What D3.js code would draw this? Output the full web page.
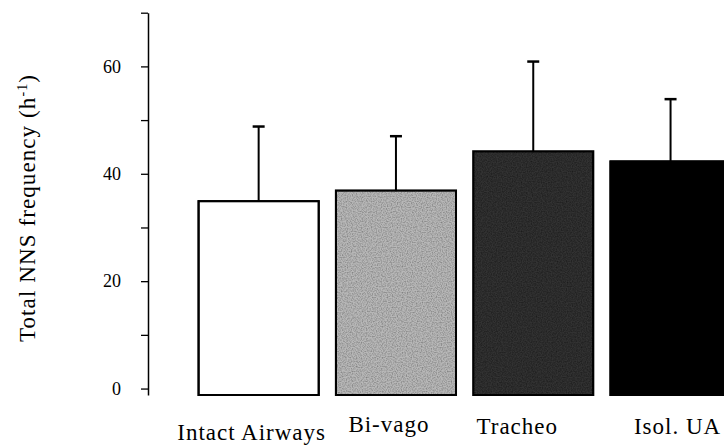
<!DOCTYPE html>
<html>
<head>
<meta charset="utf-8">
<script src="https://cdn.jsdelivr.net/npm/d3@7"></script>
<style>
  body { margin: 0; background: #fff; }
  svg { display: block; }
  svg text { fill: #000; -webkit-font-smoothing: antialiased; }
</style>
</head>
<body>
<div id="chart"></div>
<script>
// groups, means and SEM
const groups = ["Intact Airways", "Bi-vago", "Tracheo", "Isol. UA"];
const means = [34.9, 36.9, 44.2, 42.3];
const errors = [13.9, 10.1, 16.7, 11.6];
const yTicks = [0, 10, 20, 30, 40, 50, 60, 70];
const yLabels = [0, 20, 40, 60];

const fills = ["#ffffff", "#b8b8b8", "#303030", "#000000"];
const labelDx = [-7, -7, -16, 7];
const labelY = [440, 432, 434, 434];
const serif = "'Liberation Serif', serif";

const W = 724, H = 445;

const svg = d3.select("#chart").append("svg")
  .attr("width", W)
  .attr("height", H)
  .attr("font-family", serif);

// speckle texture for the shaded bars, like the scanned halftone
const defs = svg.append("defs");
const f = defs.append("filter").attr("id", "speckle")
  .attr("x", 0).attr("y", 0).attr("width", 1).attr("height", 1);
f.append("feTurbulence")
  .attr("type", "fractalNoise")
  .attr("baseFrequency", 0.8)
  .attr("numOctaves", 1)
  .attr("seed", 3)
  .attr("result", "noise");
f.append("feColorMatrix")
  .attr("in", "noise")
  .attr("type", "matrix")
  .attr("values", "0 0 0 0 0  0 0 0 0 0  0 0 0 0 0  0 0 0 -1.2 0.75")
  .attr("result", "dots");
f.append("feComposite").attr("in", "dots").attr("in2", "SourceGraphic").attr("operator", "in").attr("result", "d2");
f.append("feMerge").call(m => {
  m.append("feMergeNode").attr("in", "SourceGraphic");
  m.append("feMergeNode").attr("in", "d2");
});

const x = d3.scaleBand()
  .domain(groups)
  .range([190, 190 + 4 * 137.3])
  .paddingInner(0.125)
  .paddingOuter(0.0625);

const y = d3.scaleLinear()
  .domain([-1.2, 70])
  .range([395, 12.7]);

// axis
const axis = d3.axisLeft(y)
  .tickValues(yTicks)
  .tickSize(7)
  .tickSizeOuter(0)
  .tickPadding(20)
  .tickFormat(d => yLabels.includes(d) ? d : "");

const gy = svg.append("g")
  .attr("transform", "translate(148,0)")
  .call(axis)
  .attr("font-family", serif)
  .attr("font-size", 18);
gy.select(".domain").attr("stroke", "#000").attr("stroke-width", 1.5);
gy.selectAll(".tick line").attr("stroke", "#000").attr("stroke-width", 1.3);
gy.selectAll(".tick text").attr("fill", "#000");

// bars
svg.selectAll("rect.bar")
  .data(groups)
  .join("rect")
  .attr("class", "bar")
  .attr("x", d => x(d))
  .attr("y", (d, i) => y(means[i]))
  .attr("width", x.bandwidth())
  .attr("height", (d, i) => y(-1.2) - y(means[i]))
  .attr("fill", (d, i) => fills[i])
  .attr("filter", (d, i) => (i === 1 || i === 2) ? "url(#speckle)" : null)
  .attr("stroke", "#000")
  .attr("stroke-width", 2);

// outlines again on top so the texture doesn't soften them
svg.selectAll("rect.outline")
  .data(groups)
  .join("rect")
  .attr("class", "outline")
  .attr("x", d => x(d))
  .attr("y", (d, i) => y(means[i]))
  .attr("width", x.bandwidth())
  .attr("height", (d, i) => y(-1.2) - y(means[i]))
  .attr("fill", "none")
  .attr("stroke", "#000")
  .attr("stroke-width", 2);

// error bars (upper only)
const err = svg.selectAll("g.err")
  .data(groups)
  .join("g")
  .attr("class", "err");

err.append("line")
  .attr("x1", d => x(d) + x.bandwidth() / 2)
  .attr("x2", d => x(d) + x.bandwidth() / 2)
  .attr("y1", (d, i) => y(means[i]))
  .attr("y2", (d, i) => y(means[i] + errors[i]))
  .attr("stroke", "#000")
  .attr("stroke-width", 2);

err.append("line")
  .attr("x1", d => x(d) + x.bandwidth() / 2 - 6)
  .attr("x2", d => x(d) + x.bandwidth() / 2 + 6)
  .attr("y1", (d, i) => y(means[i] + errors[i]))
  .attr("y2", (d, i) => y(means[i] + errors[i]))
  .attr("stroke", "#000")
  .attr("stroke-width", 2.5);

// category labels
svg.selectAll("text.cat")
  .data(groups)
  .join("text")
  .attr("class", "cat")
  .attr("x", (d, i) => x(d) + x.bandwidth() / 2 + labelDx[i])
  .attr("y", (d, i) => labelY[i])
  .attr("text-anchor", "middle")
  .attr("font-family", serif)
  .attr("font-size", 23)
  .attr("letter-spacing", 1)
  .text(d => d);

// y title
const title = svg.append("text")
  .attr("transform", "translate(35,208) rotate(-90)")
  .attr("text-anchor", "middle")
  .attr("font-family", serif)
  .attr("font-size", 23)
  .attr("letter-spacing", 1.1)
  .attr("fill", "#000");
title.append("tspan").text("Total NNS frequency (h");
title.append("tspan").attr("dy", -8).attr("font-size", 14).text("-1");
title.append("tspan").attr("dy", 8).text(")");
</script>
</body>
</html>
